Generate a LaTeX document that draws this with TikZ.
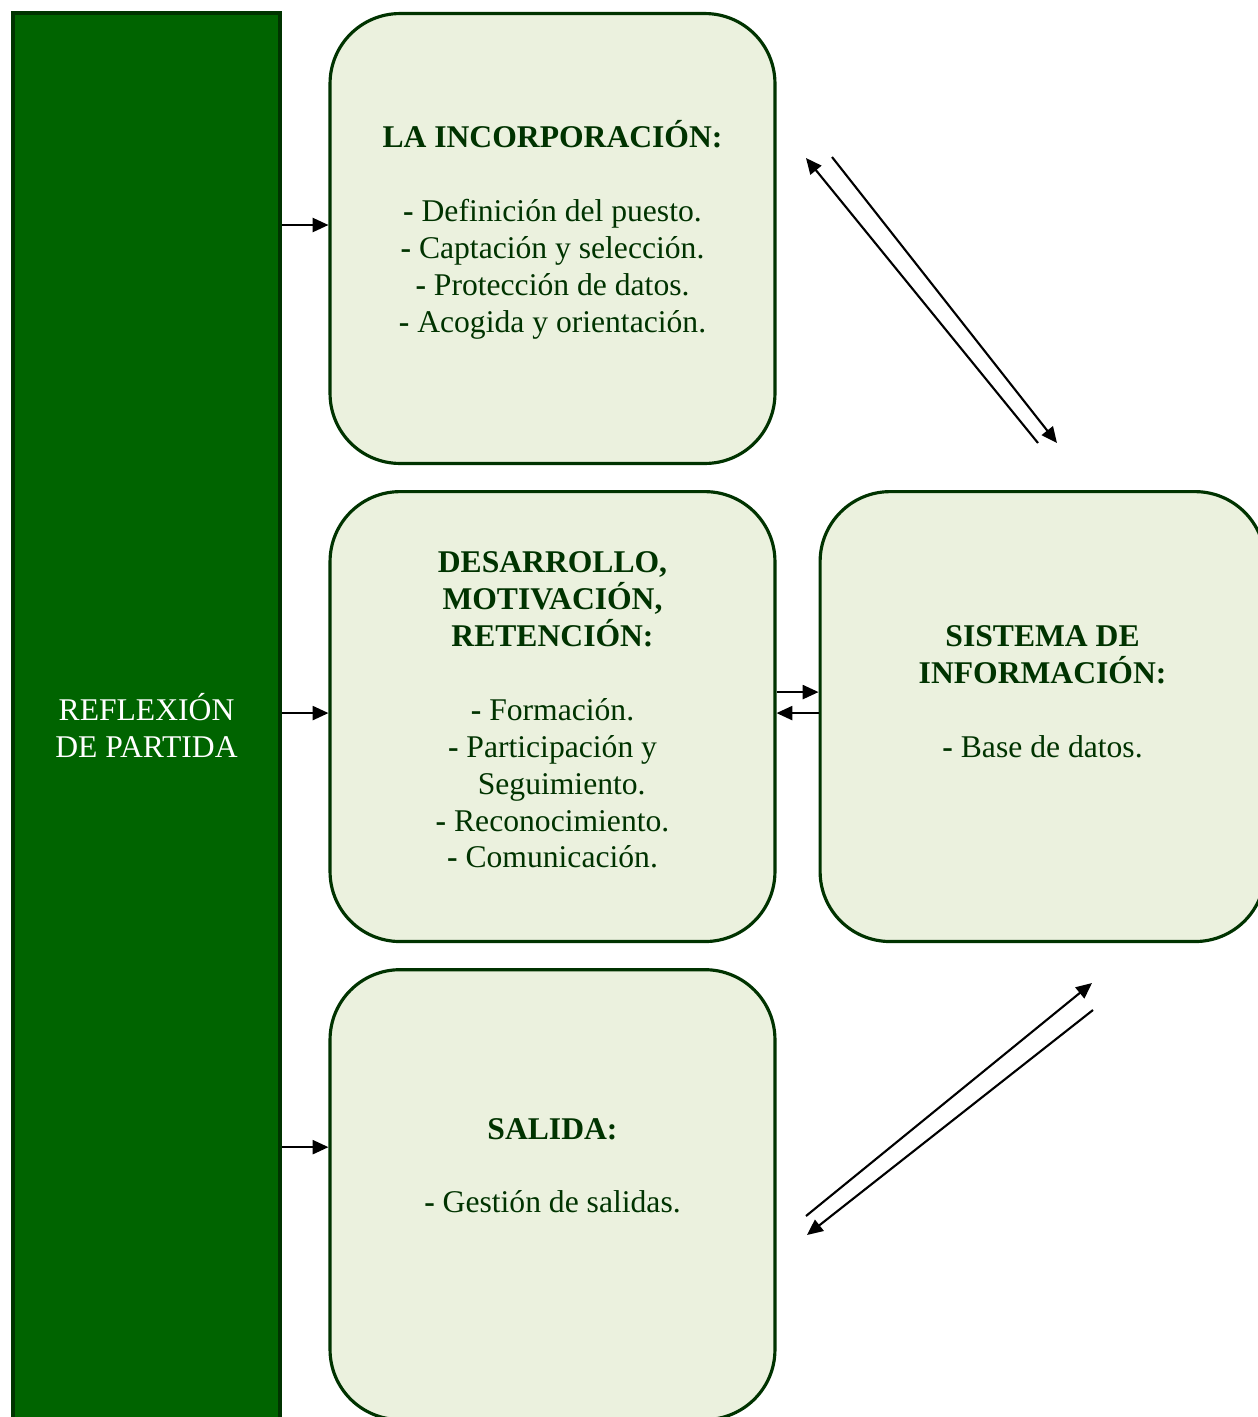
\documentclass[tikz,border=0pt]{standalone}
\usepackage{fontspec}
\setmainfont{Liberation Serif}
\usetikzlibrary{positioning, arrows.meta}
\definecolor{bargreen}{HTML}{006400}
\definecolor{darkline}{HTML}{003300}
\definecolor{boxfill}{HTML}{EBF1DE}

\begin{document}
\begin{tikzpicture}[x=0.02cm, y=-0.02cm, node distance=0.5cm,
    every node/.style={font=\fontsize{18}{21}\selectfont, text=darkline, align=center},
    box/.style={draw=darkline, line width=1.8pt, fill=boxfill, rounded corners=1.4cm,
      minimum width=8.9cm, minimum height=9.0cm, inner sep=0pt},
    arr/.style={-{Triangle[length=9pt, width=8pt]}, line width=1.2pt}]
        \path[use as bounding box, clip] (0,0) rectangle (1258,1417);
        \node[draw=darkline, line width=2.4pt, fill=bargreen, text=white,
          minimum width=5.34cm, minimum height=28.48cm] (bar) at (146.5,725) {REFLEXIÓN\\DE PARTIDA};
        \node[box] (incorp) at (552.5,238.5) {};
        \node[box, below=of incorp] (desarrollo) {};
        \node[box, below=of desarrollo] (salida) {};
        \node[box, right=0.84cm of desarrollo] (info) {};

        \node (incorp-t) at ([yshift=0.17cm]incorp.center) {\textbf{LA INCORPORACIÓN:}\\[21pt]
          \textbf{-} Definición del puesto.\\ \textbf{-} Captación y selección.\\
          \textbf{-} Protección de datos.\\ \textbf{-} Acogida y orientación.};
        \node (desarrollo-t) at ([yshift=0.13cm]desarrollo.center) {\textbf{DESARROLLO,}\\
          \textbf{MOTIVACIÓN,}\\ \textbf{RETENCIÓN:}\\[21pt]
          \textbf{-} Formación.\\ \textbf{-} Participación y\\ \phantom{\textbf{-} }Seguimiento.\\
          \textbf{-} Reconocimiento.\\ \textbf{-} Comunicación.};
        \node (info-t) at ([yshift=0.5cm]info.center) {\textbf{SISTEMA DE}\\
          \textbf{INFORMACIÓN:}\\[21pt] \textbf{-} Base de datos.};
        \node (salida-t) at ([yshift=0.58cm]salida.center) {\textbf{SALIDA:}\\[21pt]
          \textbf{-} Gestión de salidas.};

        \coordinate (in1) at ([yshift=0.27cm]incorp.west);
        \coordinate (in2) at ([yshift=0.07cm]desarrollo.west);
        \coordinate (in3) at ([yshift=0.95cm]salida.west);
        \draw[arr] (bar.east |- in1) -- (in1);
        \draw[arr] (bar.east |- in2) -- (in2);
        \draw[arr] (bar.east |- in3) -- (in3);

        \coordinate (to-info) at ([yshift=0.49cm]info.west);
        \coordinate (to-des) at ([yshift=0.07cm]desarrollo.east);
        \draw[arr] (desarrollo.east |- to-info) -- (to-info);
        \draw[arr] (info.west |- to-des) -- (to-des);

        \coordinate (up-a) at (1038,443);
        \coordinate (up-b) at (806,158);
        \coordinate (up-c) at (832,157);
        \coordinate (up-d) at (1057,443);
        \coordinate (lo-a) at (806,1216);
        \coordinate (lo-b) at (1092,983);
        \coordinate (lo-c) at (1093,1010);
        \coordinate (lo-d) at (807,1235);
        \draw[arr] (up-a) -- (up-b);
        \draw[arr] (up-c) -- (up-d);
        \draw[arr] (lo-a) -- (lo-b);
        \draw[arr] (lo-c) -- (lo-d);
      \end{tikzpicture}
\end{document}
